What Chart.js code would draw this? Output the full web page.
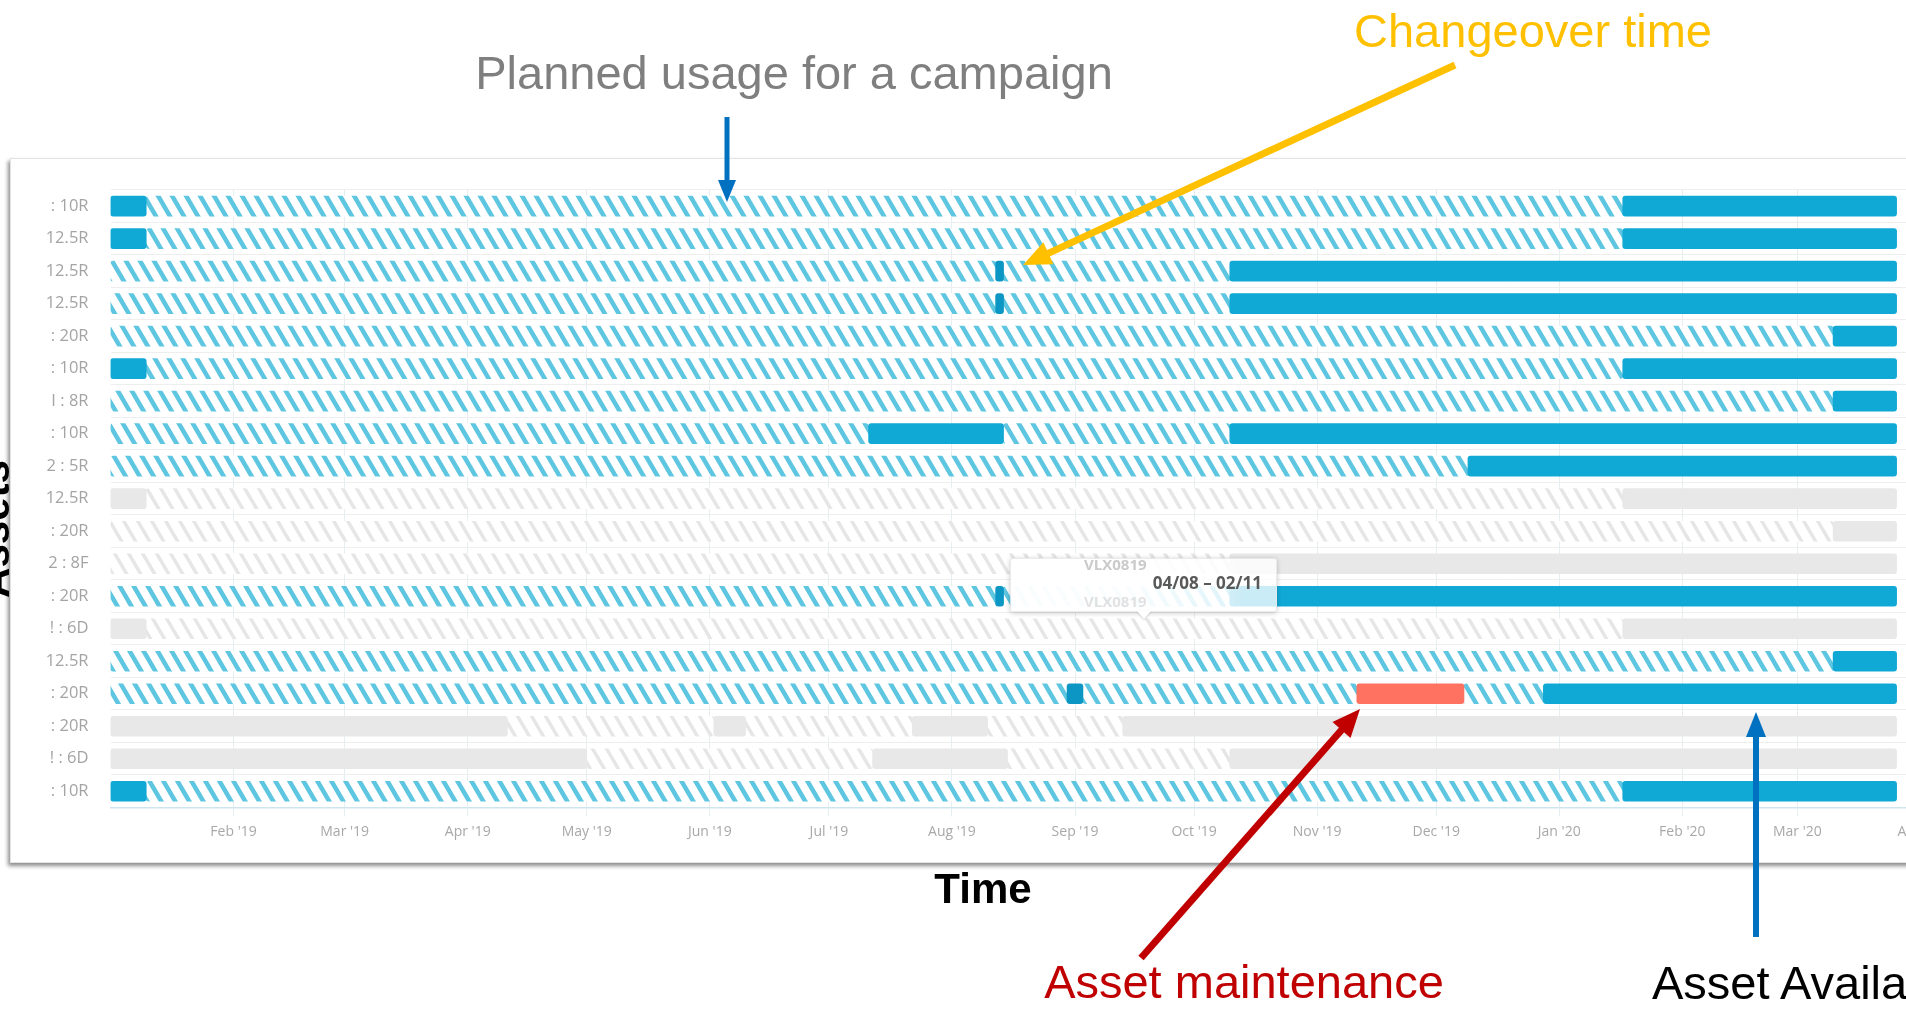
<!DOCTYPE html>
<html>
<head>
<meta charset="utf-8">
<script src="https://cdn.jsdelivr.net/npm/chart.js@4.4.1/dist/chart.umd.min.js"></script>
<style>
  html, body { margin: 0; padding: 0; width: 1906px; height: 1013px; overflow: hidden; background: #fff; }
  #panel {
    position: absolute; left: 10px; top: 158px; width: 2000px; height: 705px;
    background: #fff; border: 1px solid #e3e3e3; box-sizing: border-box;
    box-shadow: -2px 3px 4px rgba(0,0,0,0.45);
  }
  #chart { position: absolute; left: 10px; top: 158px; }
  #tip {
    position: absolute; left: 1010px; top: 558px; width: 267px; height: 54px;
    box-sizing: border-box; border-radius: 3px;
    border: 1px solid rgba(0,0,0,0.08);
    background: linear-gradient(to right, rgba(255,255,255,0.97) 0%, rgba(255,255,255,0.97) 45%, rgba(255,255,255,0.78) 88%);
    box-shadow: 0 1px 5px rgba(0,0,0,0.22);
    font-family: "Open Sans", sans-serif;
  }
  #tip .range { position: absolute; right: 14px; top: 14px; font-size: 17px; line-height: 20px; font-weight: bold; color: #595959; white-space: nowrap; }
  #tip .ghost { position: absolute; left: 73px; font-size: 15px; line-height: 17px; font-weight: bold; color: rgba(150,150,150,0.5); }
  #tip .g1 { top: -3px; }
  #tip .g2 { top: 34px; color: rgba(160,160,160,0.3); }
  #tip .caret { position: absolute; left: 126px; bottom: -8px; width: 0; height: 0;
    border-left: 7px solid transparent; border-right: 7px solid transparent; border-top: 8px solid #fff;
    filter: drop-shadow(0 1px 1px rgba(0,0,0,0.2)); }
  #notes { position: absolute; left: 0; top: 0; pointer-events: none; }
  #notes text { font-family: "Liberation Sans", Arial, sans-serif; }
</style>
</head>
<body>
<div id="panel"></div>
<canvas id="chart" width="1966" height="705"></canvas>
<div id="tip">
  <span class="ghost g1">VLX0819</span>
  <span class="range">04/08 – 02/11</span>
  <span class="ghost g2">VLX0819</span>
  <i class="caret"></i>
</div>
<svg id="notes" width="1906" height="1013" xmlns="http://www.w3.org/2000/svg">
  <text x="794" y="89" text-anchor="middle" font-size="47" fill="#7f7f7f">Planned usage for a campaign</text>
  <text x="1533" y="47" text-anchor="middle" font-size="47" fill="#ffc000">Changeover time</text>
  <text x="983" y="903" text-anchor="middle" font-size="42" font-weight="bold" fill="#000">Time</text>
  <text x="1244" y="998" text-anchor="middle" font-size="47" fill="#c00000">Asset maintenance</text>
  <text x="1652" y="999" text-anchor="start" font-size="47" fill="#000">Asset Availability</text>
  <text transform="translate(9,529) rotate(-90)" text-anchor="middle" font-size="42" font-weight="bold" fill="#000">Assets</text>
</svg>
<script>
'use strict';

// asset rows, top to bottom (labels are cut off on the left in the source)
const assetLabels = [
  ': 10R', '12.5R', '12.5R', '12.5R', ': 20R', ': 10R', 'I : 8R', ': 10R', '2 : 5R',
  '12.5R', ': 20R', '2 : 8F', ': 20R', '! : 6D', '12.5R', ': 20R', ': 20R', '! : 6D', ': 10R',
];

const axisStart = '2019-01-01';
const axisEnd   = '2020-04-15';
const monthTicks = [
  '2019-02-01', '2019-03-01', '2019-04-01', '2019-05-01', '2019-06-01', '2019-07-01', '2019-08-01',
  '2019-09-01', '2019-10-01', '2019-11-01', '2019-12-01', '2020-01-01', '2020-02-01', '2020-03-01', '2020-04-01',
];
const monthLabels = [
  "Feb '19", "Mar '19", "Apr '19", "May '19", "Jun '19", "Jul '19", "Aug '19",
  "Sep '19", "Oct '19", "Nov '19", "Dec '19", "Jan '20", "Feb '20", "Mar '20", "Apr '20",
];

// [row, start, end]
const available = [
  [0, '2019-01-01', '2019-01-10'], [0, '2020-01-17', '2020-03-26'],
  [1, '2019-01-01', '2019-01-10'], [1, '2020-01-17', '2020-03-26'],
  [2, '2019-10-10', '2020-03-26'],
  [3, '2019-10-10', '2020-03-26'],
  [4, '2020-03-10', '2020-03-26'],
  [5, '2019-01-01', '2019-01-10'], [5, '2020-01-17', '2020-03-26'],
  [6, '2020-03-10', '2020-03-26'],
  [7, '2019-07-11', '2019-08-14'], [7, '2019-10-10', '2020-03-26'],
  [8, '2019-12-09', '2020-03-26'],
  [12, '2019-10-10', '2020-03-26'],
  [14, '2020-03-10', '2020-03-26'],
  [15, '2019-12-28', '2020-03-26'],
  [18, '2019-01-01', '2019-01-10'], [18, '2020-01-17', '2020-03-26'],
];
const planned = [
  [0, '2019-01-10', '2020-01-17'],
  [1, '2019-01-10', '2020-01-17'],
  [2, '2019-01-01', '2019-08-12'], [2, '2019-08-14', '2019-10-10'],
  [3, '2019-01-01', '2019-08-12'], [3, '2019-08-14', '2019-10-10'],
  [4, '2019-01-01', '2020-03-10'],
  [5, '2019-01-10', '2020-01-17'],
  [6, '2019-01-01', '2020-03-10'],
  [7, '2019-01-01', '2019-07-11'], [7, '2019-08-14', '2019-10-10'],
  [8, '2019-01-01', '2019-12-09'],
  [12, '2019-01-01', '2019-08-12'], [12, '2019-08-14', '2019-10-10'],
  [14, '2019-01-01', '2020-03-10'],
  [15, '2019-01-01', '2019-08-30'], [15, '2019-09-03', '2019-11-11'], [15, '2019-12-08', '2019-12-28'],
  [18, '2019-01-10', '2020-01-17'],
];
const changeover = [
  [2, '2019-08-12', '2019-08-14'],
  [3, '2019-08-12', '2019-08-14'],
  [12, '2019-08-12', '2019-08-14'],
  [15, '2019-08-30', '2019-09-03'],
];
const maintenance = [
  [15, '2019-11-11', '2019-12-08'],
];
const idle = [
  [9, '2019-01-01', '2019-01-10'], [9, '2020-01-17', '2020-03-26'],
  [10, '2020-03-10', '2020-03-26'],
  [11, '2019-10-10', '2020-03-26'],
  [13, '2019-01-01', '2019-01-10'], [13, '2020-01-17', '2020-03-26'],
  [16, '2019-01-01', '2019-04-11'], [16, '2019-06-02', '2019-06-10'], [16, '2019-07-22', '2019-08-10'], [16, '2019-09-13', '2020-03-26'],
  [17, '2019-01-01', '2019-05-01'], [17, '2019-07-12', '2019-08-15'], [17, '2019-10-10', '2020-03-26'],
];
const idleHatched = [
  [9, '2019-01-10', '2020-01-17'],
  [10, '2019-01-01', '2020-03-10'],
  [11, '2019-01-01', '2019-10-10'],
  [13, '2019-01-10', '2020-01-17'],
  [16, '2019-04-11', '2019-06-02'], [16, '2019-06-10', '2019-07-22'], [16, '2019-08-10', '2019-09-13'],
  [17, '2019-05-01', '2019-07-12'], [17, '2019-08-15', '2019-10-10'],
];

const dayOf = s => (Date.parse(s) - Date.parse(axisStart)) / 86400000;
const rowKeys = assetLabels.map((_, i) => 'r' + i);
const tickDays = monthTicks.map(dayOf);

function toBars(list) {
  return list.map(([row, s, e]) => ({ x: [dayOf(s), dayOf(e)], y: 'r' + row }));
}

// diagonal "\\\" stripes
function hatch(color, width) {
  const w = 14, h = 24;
  const c = document.createElement('canvas');
  c.width = w; c.height = h;
  const g = c.getContext('2d');
  g.fillStyle = '#fff';
  g.fillRect(0, 0, w, h);
  g.strokeStyle = color;
  g.lineWidth = width;
  g.beginPath();
  for (const o of [-w, 0, w]) {
    g.moveTo(o - w * 0.25, -h * 0.25);
    g.lineTo(o + w * 1.25, h * 1.25);
  }
  g.stroke();
  return g.createPattern(c, 'repeat');
}

const barBase = { grouped: false, barThickness: 20, borderRadius: 3, borderSkipped: false, borderWidth: 0 };

const datasets = [
  { ...barBase, label: 'Changeover', data: toBars(changeover), backgroundColor: '#0b96c4' },
  { ...barBase, label: 'Maintenance', data: toBars(maintenance), backgroundColor: '#ff7261' },
  { ...barBase, label: 'Available', data: toBars(available), backgroundColor: '#10a8d4' },
  { ...barBase, label: 'Planned', data: toBars(planned), backgroundColor: hatch('#5ec6e0', 4.5) },
  { ...barBase, label: 'Idle', data: toBars(idle), backgroundColor: '#e8e8e8' },
  { ...barBase, label: 'Idle planned', data: toBars(idleHatched), backgroundColor: hatch('#e6e6e6', 3.5) },
];

new Chart(document.getElementById('chart'), {
  type: 'bar',
  data: { labels: rowKeys, datasets },
  options: {
    indexAxis: 'y',
    responsive: false,
    animation: false,
    events: [],
    layout: { padding: { left: 0, right: 0, top: 29.7, bottom: 10.5 } },
    plugins: { legend: { display: false }, tooltip: { enabled: false } },
    scales: {
      x: {
        type: 'linear',
        min: 0,
        max: dayOf(axisEnd),
        afterBuildTicks: s => { s.ticks = tickDays.map(v => ({ value: v })); },
        afterFit: s => { s.height = 45; },
        grid: { color: '#e6eef2', tickColor: '#e6eef2', tickLength: 9, drawTicks: true },
        border: { color: '#cfe5ee', width: 1.5 },
        ticks: {
          padding: 7, color: '#a8a8a8', maxRotation: 0, autoSkip: false,
          font: { family: 'Open Sans', size: 14 },
          callback: (v, i) => monthLabels[i],
        },
      },
      y: {
        type: 'category',
        offset: true,
        afterFit: s => { s.width = 100.5; },
        grid: { color: '#eeeeee', drawTicks: false, offset: true },
        border: { display: false },
        ticks: {
          padding: 22, color: '#a4a4a4', autoSkip: false,
          font: { family: 'Open Sans', size: 16.5 },
          callback: (v, i) => assetLabels[i],
        },
      },
    },
  },
});

// annotation arrows
const NS = 'http://www.w3.org/2000/svg';
const notes = document.getElementById('notes');
function arrow(x1, y1, x2, y2, color, width, headLen, headW) {
  const dx = x2 - x1, dy = y2 - y1;
  const len = Math.hypot(dx, dy);
  const ux = dx / len, uy = dy / len;
  const bx = x2 - ux * headLen, by = y2 - uy * headLen;
  const line = document.createElementNS(NS, 'line');
  line.setAttribute('x1', x1); line.setAttribute('y1', y1);
  line.setAttribute('x2', bx + ux * 2); line.setAttribute('y2', by + uy * 2);
  line.setAttribute('stroke', color); line.setAttribute('stroke-width', width);
  notes.appendChild(line);
  const head = document.createElementNS(NS, 'polygon');
  const px = -uy * headW / 2, py = ux * headW / 2;
  head.setAttribute('points', `${x2},${y2} ${bx + px},${by + py} ${bx - px},${by - py}`);
  head.setAttribute('fill', color);
  notes.appendChild(head);
}
arrow(727, 117, 727, 202, '#0070c0', 5, 22, 18);
arrow(1455, 65, 1023, 265, '#ffc000', 7, 28, 24);
arrow(1141, 958, 1360, 709, '#c00000', 7, 28, 24);
arrow(1756, 937, 1756, 712, '#0070c0', 6, 25, 20);
</script>
</body>
</html>
